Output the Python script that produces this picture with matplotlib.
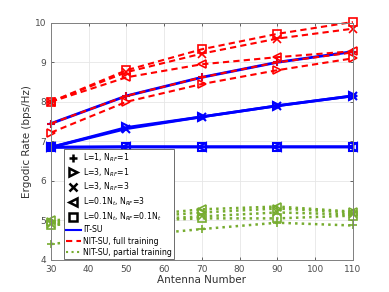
import numpy as np
import matplotlib.pyplot as plt
from matplotlib.lines import Line2D

antennas = [30, 50, 70, 90, 110]
markers = ['+', '>', 'x', '<', 's']
labels = ['L=1, N$_{RF}$=1', 'L=3, N$_{RF}$=1', 'L=3, N$_{RF}$=3',
          'L=0.1N$_t$, N$_{RF}$=3', 'L=0.1N$_t$, N$_{RF}$=0.1N$_t$']

# IT-SU
it_su = [
    [7.45, 8.15, 8.62, 9.00, 9.27],
    [6.85, 7.35, 7.62, 7.90, 8.15],
    [6.85, 7.32, 7.62, 7.90, 8.15],
    [6.85, 6.86, 6.86, 6.86, 6.86],
    [6.85, 6.86, 6.86, 6.86, 6.86],
]
# NIT-SU, full training
full_tr = [
    [7.45, 8.15, 8.62, 9.00, 9.25],
    [7.22, 8.00, 8.45, 8.80, 9.10],
    [8.00, 8.75, 9.22, 9.60, 9.85],
    [8.00, 8.62, 8.95, 9.13, 9.28],
    [8.00, 8.80, 9.33, 9.72, 10.02],
]
# NIT-SU, partial training
part_tr = [
    [4.40, 4.60, 4.78, 4.94, 4.87],
    [4.95, 5.05, 5.20, 5.30, 5.20],
    [4.90, 5.00, 5.10, 5.20, 5.15],
    [5.00, 5.10, 5.28, 5.35, 5.22],
    [4.88, 4.98, 5.05, 5.05, 5.12],
]

blue = '#0000FF'
red = '#FF0000'
green = '#77AC30'

fig = plt.figure(figsize=(3.89, 2.92), dpi=100)
ax = fig.add_axes([0.131, 0.110, 0.776, 0.812])

for i, m in enumerate(markers):
    ax.plot(antennas, it_su[i], '-', color=blue, lw=2, marker=m,
            ms=6, mfc='none', mew=1.5, clip_on=False)
for i, m in enumerate(markers):
    ax.plot(antennas, full_tr[i], '--', color=red, lw=1.5, marker=m,
            ms=6, mfc='none', mew=1.2, dashes=(3, 2), clip_on=False)
for i, m in enumerate(markers):
    ax.plot(antennas, part_tr[i], ':', color=green, lw=1.8, marker=m,
            ms=6, mfc='none', mew=1.2, clip_on=False)

ax.set_xlim(30, 110)
ax.set_ylim(4, 10)
ax.set_xticks(np.arange(30, 111, 10))
ax.set_yticks(np.arange(4, 11, 1))
ax.grid(True, color='#e6e6e6', lw=0.6)
ax.set_axisbelow(True)
for s in ax.spines.values():
    s.set_color('#7f7f7f')
    s.set_linewidth(0.7)
ax.tick_params(colors='#4d4d4d', labelsize=6.5, length=2, width=0.6,
               direction='in', top=True, right=True)
ax.set_xlabel('Antenna Number', fontsize=7.5, color='#333333', labelpad=1)
ax.set_ylabel('Ergodic Rate (bps/Hz)', fontsize=7.5, color='#333333', labelpad=2)

handles = [Line2D([], [], ls='none', marker=m, color='black', mfc='none',
                  ms=6, mew=1.8) for m in markers]
handles += [Line2D([], [], color=blue, lw=1.5),
            Line2D([], [], color=red, lw=1.5, ls='--', dashes=(3, 2)),
            Line2D([], [], color=green, lw=1.5, ls=':')]
leg_labels = labels + ['IT-SU', 'NIT-SU, full training', 'NIT-SU, partial training']
leg = ax.legend(handles, leg_labels, loc='lower left',
                bbox_to_anchor=(0.04, 0.0), fontsize=5.6, frameon=True,
                fancybox=False, edgecolor='#555555', framealpha=1,
                handlelength=1.9, handletextpad=0.3, borderpad=0.25,
                labelspacing=0.3, borderaxespad=0.1)
leg.get_frame().set_linewidth(0.6)
leg.set_zorder(5)

fig.savefig('out.png', dpi=100)
